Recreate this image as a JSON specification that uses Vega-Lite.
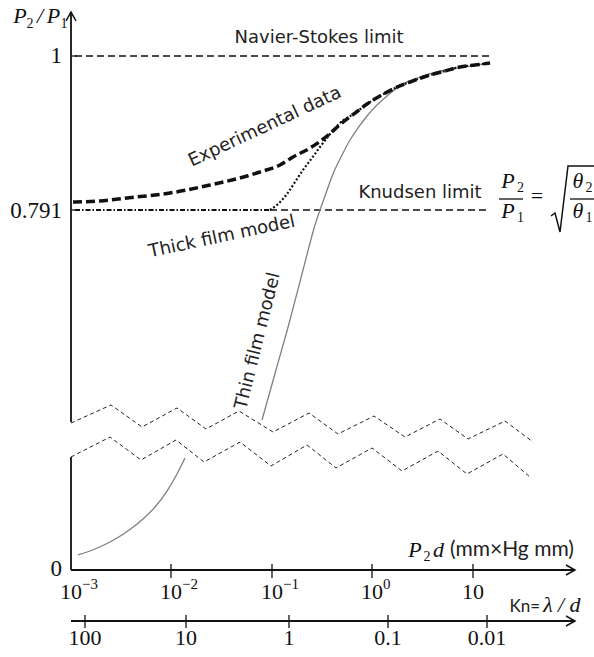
{
  "$schema": "https://vega.github.io/schema/vega-lite/v6.json",
  "width": 594,
  "height": 657,
  "autosize": "none",
  "padding": 0,
  "background": "white",
  "config": {"view": {"stroke": null}},
  "datasets": {
    "seg": [
      {"kind": "axis", "x": -3, "y": 1.0597, "x2": -3, "y2": 0.50328},
      {"kind": "axis", "x": -3, "y": 0.45579, "x2": -3, "y2": 0.30243},
      {"kind": "axis", "x": -3, "y": 0.30243, "x2": 2.0149, "y2": 0.30243},
      {"kind": "axis", "x": -3, "y": 0.23321, "x2": 2.0149, "y2": 0.23321},
      {"kind": "tick", "x": -3, "y": 1, "x2": -2.9403, "y2": 1},
      {"kind": "tick", "x": -3, "y": 0.791, "x2": -2.9403, "y2": 0.791},
      {"kind": "tick", "x": -2.005, "y": 0.31057, "x2": -2.005, "y2": 0.29157},
      {"kind": "tick", "x": -1.0, "y": 0.31057, "x2": -1.0, "y2": 0.29157},
      {"kind": "tick", "x": -0.005, "y": 0.31057, "x2": -0.005, "y2": 0.29157},
      {"kind": "tick", "x": 1.0, "y": 0.31057, "x2": 1.0, "y2": 0.29157},
      {"kind": "tick", "x": -2.8607, "y": 0.24136, "x2": -2.8607, "y2": 0.22371},
      {"kind": "tick", "x": -1.8557, "y": 0.24136, "x2": -1.8557, "y2": 0.22371},
      {"kind": "tick", "x": -0.8308, "y": 0.24136, "x2": -0.8308, "y2": 0.22371},
      {"kind": "tick", "x": 0.1542, "y": 0.24136, "x2": 0.1542, "y2": 0.22371},
      {"kind": "tick", "x": 1.1393, "y": 0.24136, "x2": 1.1393, "y2": 0.22371},
      {"kind": "frac", "x": 1.2587, "y": 0.80593, "x2": 1.4975, "y2": 0.80593},
      {"kind": "frac", "x": 1.9652, "y": 0.80593, "x2": 2.204, "y2": 0.80593},
      {"kind": "dash", "x": -2.9602, "y": 1, "x2": 1.1692, "y2": 1},
      {"kind": "dash", "x": -1.0199, "y": 0.791, "x2": 1.1692, "y2": 0.791},
      {"kind": "dashdot", "x": -2.9602, "y": 0.791, "x2": -1.0199, "y2": 0.791}
    ],
    "poly": [
      {"id": "ay", "o": 0, "x": -3.0498, "y": 1.0475},
      {"id": "ay", "o": 1, "x": -3, "y": 1.0597},
      {"id": "ay", "o": 2, "x": -2.9502, "y": 1.0475},
      {"id": "ax", "o": 0, "x": 1.9254, "y": 0.30921},
      {"id": "ax", "o": 1, "x": 2.0149, "y": 0.30243},
      {"id": "ax", "o": 2, "x": 1.9254, "y": 0.29564},
      {"id": "ak", "o": 0, "x": 1.9254, "y": 0.24},
      {"id": "ak", "o": 1, "x": 2.0149, "y": 0.23321},
      {"id": "ak", "o": 2, "x": 1.9254, "y": 0.22643},
      {"id": "sq", "o": 0, "x": 1.7761, "y": 0.78286},
      {"id": "sq", "o": 1, "x": 1.8159, "y": 0.78693},
      {"id": "sq", "o": 2, "x": 1.8657, "y": 0.76114},
      {"id": "sq", "o": 3, "x": 1.9453, "y": 0.85071},
      {"id": "sq", "o": 4, "x": 2.204, "y": 0.85071}
    ],
    "zig": [
      {"id": "z1", "o": 0, "x": -3, "y": 0.5019},
      {"id": "z1", "o": 1, "x": -2.602, "y": 0.5264},
      {"id": "z1", "o": 2, "x": -2.2935, "y": 0.4965},
      {"id": "z1", "o": 3, "x": -1.9453, "y": 0.5223},
      {"id": "z1", "o": 4, "x": -1.6567, "y": 0.4938},
      {"id": "z1", "o": 5, "x": -1.3284, "y": 0.5182},
      {"id": "z1", "o": 6, "x": -0.99, "y": 0.4897},
      {"id": "z1", "o": 7, "x": -0.6318, "y": 0.5155},
      {"id": "z1", "o": 8, "x": -0.3433, "y": 0.487},
      {"id": "z1", "o": 9, "x": 0.0149, "y": 0.5114},
      {"id": "z1", "o": 10, "x": 0.3234, "y": 0.4829},
      {"id": "z1", "o": 11, "x": 0.6716, "y": 0.5074},
      {"id": "z1", "o": 12, "x": 0.9502, "y": 0.4802},
      {"id": "z1", "o": 13, "x": 1.3184, "y": 0.5046},
      {"id": "z1", "o": 14, "x": 1.597, "y": 0.4761},
      {"id": "z2", "o": 0, "x": -3, "y": 0.4558},
      {"id": "z2", "o": 1, "x": -2.6119, "y": 0.4829},
      {"id": "z2", "o": 2, "x": -2.3035, "y": 0.4517},
      {"id": "z2", "o": 3, "x": -1.9552, "y": 0.4789},
      {"id": "z2", "o": 4, "x": -1.6766, "y": 0.449},
      {"id": "z2", "o": 5, "x": -1.3184, "y": 0.4761},
      {"id": "z2", "o": 6, "x": -1.01, "y": 0.4436},
      {"id": "z2", "o": 7, "x": -0.6517, "y": 0.4721},
      {"id": "z2", "o": 8, "x": -0.3632, "y": 0.4409},
      {"id": "z2", "o": 9, "x": -0.005, "y": 0.468},
      {"id": "z2", "o": 10, "x": 0.2935, "y": 0.4368},
      {"id": "z2", "o": 11, "x": 0.6517, "y": 0.4639},
      {"id": "z2", "o": 12, "x": 0.9403, "y": 0.4327},
      {"id": "z2", "o": 13, "x": 1.2985, "y": 0.4599},
      {"id": "z2", "o": 14, "x": 1.5672, "y": 0.4286}
    ],
    "curve": [
      {"id": "exp", "o": 0, "x": -2.9801, "y": 0.8019},
      {"id": "exp", "o": 1, "x": -2.7114, "y": 0.8032},
      {"id": "exp", "o": 2, "x": -2.4428, "y": 0.8073},
      {"id": "exp", "o": 3, "x": -2.0149, "y": 0.8141},
      {"id": "exp", "o": 4, "x": -1.6169, "y": 0.8249},
      {"id": "exp", "o": 5, "x": -1.2488, "y": 0.8371},
      {"id": "exp", "o": 6, "x": -1.1194, "y": 0.8426},
      {"id": "exp", "o": 7, "x": -0.9204, "y": 0.8521},
      {"id": "exp", "o": 8, "x": -0.791, "y": 0.8629},
      {"id": "exp", "o": 9, "x": -0.6219, "y": 0.8751},
      {"id": "exp", "o": 10, "x": -0.4527, "y": 0.8914},
      {"id": "exp", "o": 11, "x": -0.2935, "y": 0.9104},
      {"id": "exp", "o": 12, "x": -0.1741, "y": 0.9226},
      {"id": "exp", "o": 13, "x": -0.0547, "y": 0.9349},
      {"id": "exp", "o": 14, "x": 0.0746, "y": 0.9457},
      {"id": "exp", "o": 15, "x": 0.204, "y": 0.9552},
      {"id": "exp", "o": 16, "x": 0.3731, "y": 0.9647},
      {"id": "exp", "o": 17, "x": 0.5423, "y": 0.9729},
      {"id": "exp", "o": 18, "x": 0.7214, "y": 0.9796},
      {"id": "exp", "o": 19, "x": 0.8706, "y": 0.9851},
      {"id": "exp", "o": 20, "x": 1.0199, "y": 0.9878},
      {"id": "exp", "o": 21, "x": 1.1692, "y": 0.9905},
      {"id": "thick", "o": 0, "x": -1.0199, "y": 0.791},
      {"id": "thick", "o": 1, "x": -0.9403, "y": 0.7991},
      {"id": "thick", "o": 2, "x": -0.8507, "y": 0.8127},
      {"id": "thick", "o": 3, "x": -0.7711, "y": 0.829},
      {"id": "thick", "o": 4, "x": -0.6915, "y": 0.8453},
      {"id": "thick", "o": 5, "x": -0.602, "y": 0.8616},
      {"id": "thick", "o": 6, "x": -0.5224, "y": 0.8765},
      {"id": "thick", "o": 7, "x": -0.4229, "y": 0.8941},
      {"id": "thick", "o": 8, "x": -0.3234, "y": 0.9091},
      {"id": "thick", "o": 9, "x": -0.1741, "y": 0.9226},
      {"id": "thick", "o": 10, "x": -0.0547, "y": 0.9349},
      {"id": "thick", "o": 11, "x": 0.0746, "y": 0.9457},
      {"id": "thick", "o": 12, "x": 0.204, "y": 0.9552},
      {"id": "thick", "o": 13, "x": 0.3731, "y": 0.9647},
      {"id": "thick", "o": 14, "x": 0.5423, "y": 0.9729},
      {"id": "thick", "o": 15, "x": 0.7214, "y": 0.9796},
      {"id": "thick", "o": 16, "x": 0.8706, "y": 0.9851},
      {"id": "thick", "o": 17, "x": 1.0199, "y": 0.9878},
      {"id": "thick", "o": 18, "x": 1.1692, "y": 0.9905},
      {"id": "thinup", "o": 0, "x": -1.0995, "y": 0.506},
      {"id": "thinup", "o": 1, "x": -0.9602, "y": 0.5739},
      {"id": "thinup", "o": 2, "x": -0.8209, "y": 0.6417},
      {"id": "thinup", "o": 3, "x": -0.6915, "y": 0.7096},
      {"id": "thinup", "o": 4, "x": -0.5721, "y": 0.7706},
      {"id": "thinup", "o": 5, "x": -0.4726, "y": 0.81},
      {"id": "thinup", "o": 6, "x": -0.393, "y": 0.8399},
      {"id": "thinup", "o": 7, "x": -0.3035, "y": 0.8656},
      {"id": "thinup", "o": 8, "x": -0.2239, "y": 0.886},
      {"id": "thinup", "o": 9, "x": -0.1443, "y": 0.9023},
      {"id": "thinup", "o": 10, "x": -0.0547, "y": 0.9186},
      {"id": "thinup", "o": 11, "x": 0.0448, "y": 0.9335},
      {"id": "thinup", "o": 12, "x": 0.1443, "y": 0.9457},
      {"id": "thinup", "o": 13, "x": 0.3035, "y": 0.962},
      {"id": "thinup", "o": 14, "x": 0.4726, "y": 0.9715},
      {"id": "thinup", "o": 15, "x": 0.7214, "y": 0.981},
      {"id": "thinup", "o": 16, "x": 0.9701, "y": 0.9864},
      {"id": "thinup", "o": 17, "x": 1.1692, "y": 0.9905},
      {"id": "thinlow", "o": 0, "x": -2.9303, "y": 0.3228},
      {"id": "thinlow", "o": 1, "x": -2.7612, "y": 0.3309},
      {"id": "thinlow", "o": 2, "x": -2.6119, "y": 0.3404},
      {"id": "thinlow", "o": 3, "x": -2.4627, "y": 0.3526},
      {"id": "thinlow", "o": 4, "x": -2.2836, "y": 0.3716},
      {"id": "thinlow", "o": 5, "x": -2.1642, "y": 0.3879},
      {"id": "thinlow", "o": 6, "x": -2.0448, "y": 0.4096},
      {"id": "thinlow", "o": 7, "x": -1.9453, "y": 0.4327},
      {"id": "thinlow", "o": 8, "x": -1.8657, "y": 0.4544}
    ],
    "txt": [
      {"kind": "sans", "text": "Navier-Stokes limit", "x": -0.5323, "y": 1.0244},
      {"kind": "sans", "text": "Knudsen limit", "x": 0.4726, "y": 0.8141},
      {"kind": "exp", "text": "Experimental data", "x": -1.0697, "y": 0.9036},
      {"kind": "thick", "text": "Thick film model", "x": -1.4975, "y": 0.7544},
      {"kind": "thin", "text": "Thin film model", "x": -1.1393, "y": 0.6132},
      {"kind": "ylab", "text": "1", "x": -3.0896, "y": 1.0},
      {"kind": "ylab", "text": "0.791", "x": -3.0896, "y": 0.7903},
      {"kind": "ylab", "text": "0", "x": -3.0896, "y": 0.3038},
      {"kind": "tick", "text": "10", "x": -3, "y": 0.27257},
      {"kind": "tick", "text": "10", "x": -2.005, "y": 0.27257},
      {"kind": "tick", "text": "10", "x": -1.0, "y": 0.27257},
      {"kind": "tick", "text": "10", "x": -0.005, "y": 0.27257},
      {"kind": "tick", "text": "10", "x": 1.0, "y": 0.27257},
      {"kind": "tick", "text": "100", "x": -2.8607, "y": 0.21014},
      {"kind": "tick", "text": "10", "x": -1.8557, "y": 0.21014},
      {"kind": "tick", "text": "1", "x": -0.8308, "y": 0.21014},
      {"kind": "tick", "text": "0.1", "x": 0.1542, "y": 0.21014},
      {"kind": "tick", "text": "0.01", "x": 1.1393, "y": 0.21014},
      {"kind": "tick", "text": "=", "x": 1.6368, "y": 0.81},
      {"kind": "sup", "text": "−3", "x": -2.8905, "y": 0.28343},
      {"kind": "sup", "text": "−2", "x": -1.8955, "y": 0.28343},
      {"kind": "sup", "text": "−1", "x": -0.8905, "y": 0.28343},
      {"kind": "sup", "text": "0", "x": 0.1045, "y": 0.28343},
      {"kind": "ital", "text": "P", "x": -3.5075, "y": 1.04479},
      {"kind": "ital", "text": "/", "x": -3.3085, "y": 1.04479},
      {"kind": "ital", "text": "P", "x": -3.1741, "y": 1.04479},
      {"kind": "ital", "text": "P", "x": 0.4229, "y": 0.32007},
      {"kind": "ital", "text": "d", "x": 0.6567, "y": 0.32007},
      {"kind": "ital", "text": "P", "x": 1.3483, "y": 0.82086},
      {"kind": "ital", "text": "P", "x": 1.3483, "y": 0.78014},
      {"kind": "ital", "text": "θ", "x": 2.0448, "y": 0.82086},
      {"kind": "ital", "text": "θ", "x": 2.0448, "y": 0.78014},
      {"kind": "ital", "text": "λ", "x": 1.7463, "y": 0.24543},
      {"kind": "ital", "text": "/", "x": 1.8756, "y": 0.24543},
      {"kind": "ital", "text": "d", "x": 2.0149, "y": 0.24543},
      {"kind": "sub", "text": "2", "x": -3.408, "y": 1.038},
      {"kind": "sub", "text": "1", "x": -3.0697, "y": 1.038},
      {"kind": "sub", "text": "2", "x": 0.5423, "y": 0.31464},
      {"kind": "sub", "text": "2", "x": 1.4726, "y": 0.81543},
      {"kind": "sub", "text": "1", "x": 1.4726, "y": 0.77471},
      {"kind": "sub", "text": "2", "x": 2.1542, "y": 0.81543},
      {"kind": "sub", "text": "1", "x": 2.1542, "y": 0.77471},
      {"kind": "latoL", "text": "(mm×Hg mm)", "x": 0.7711, "y": 0.32143},
      {"kind": "latoR", "text": "Kn=", "x": 1.6667, "y": 0.24543}
    ]
  },
  "encoding": {
    "x": {"field": "x", "type": "quantitative", "scale": {"domain": [-3.70647, 2.20398], "nice": false, "zero": false}, "axis": null},
    "y": {"field": "y", "type": "quantitative", "scale": {"domain": [0.18436, 1.076], "nice": false, "zero": false}, "axis": null}
  },
  "layer": [
    {
      "data": {"name": "zig"},
      "mark": {"type": "line", "strokeWidth": 1, "color": "#222", "strokeDash": [4, 3]},
      "encoding": {"detail": {"field": "id"}, "order": {"field": "o", "type": "quantitative"}}
    },
    {
      "data": {"name": "seg"},
      "transform": [{"filter": {"field": "kind", "equal": "dash"}}],
      "mark": {"type": "rule", "strokeWidth": 1.3, "color": "#111", "strokeDash": [7, 4]},
      "encoding": {"x2": {"field": "x2"}, "y2": {"field": "y2"}}
    },
    {
      "data": {"name": "seg"},
      "transform": [{"filter": {"field": "kind", "equal": "dashdot"}}],
      "mark": {"type": "rule", "strokeWidth": 2, "color": "#111", "strokeDash": [5, 2, 1.5, 2]},
      "encoding": {"x2": {"field": "x2"}, "y2": {"field": "y2"}}
    },
    {
      "data": {"name": "curve"},
      "transform": [{"filter": {"field": "id", "oneOf": ["thinup", "thinlow"]}}],
      "mark": {"type": "line", "strokeWidth": 1.3, "color": "#808080", "interpolate": "monotone"},
      "encoding": {"detail": {"field": "id"}, "order": {"field": "o", "type": "quantitative"}}
    },
    {
      "data": {"name": "curve"},
      "transform": [{"filter": {"field": "id", "equal": "thick"}}],
      "mark": {"type": "line", "strokeWidth": 2.2, "color": "#111", "strokeDash": [2, 2], "interpolate": "monotone"},
      "encoding": {"order": {"field": "o", "type": "quantitative"}}
    },
    {
      "data": {"name": "curve"},
      "transform": [{"filter": {"field": "id", "equal": "exp"}}],
      "mark": {"type": "line", "strokeWidth": 3.5, "color": "#111", "strokeDash": [9, 4], "interpolate": "monotone"},
      "encoding": {"order": {"field": "o", "type": "quantitative"}}
    },
    {
      "data": {"name": "seg"},
      "transform": [{"filter": {"field": "kind", "equal": "axis"}}],
      "mark": {"type": "rule", "strokeWidth": 1.8, "color": "#111"},
      "encoding": {"x2": {"field": "x2"}, "y2": {"field": "y2"}}
    },
    {
      "data": {"name": "seg"},
      "transform": [{"filter": {"field": "kind", "oneOf": ["tick", "frac"]}}],
      "mark": {"type": "rule", "strokeWidth": 1.3, "color": "#111"},
      "encoding": {"x2": {"field": "x2"}, "y2": {"field": "y2"}}
    },
    {
      "data": {"name": "poly"},
      "mark": {"type": "line", "strokeWidth": 1.5, "color": "#111"},
      "encoding": {"detail": {"field": "id"}, "order": {"field": "o", "type": "quantitative"}}
    },
    {
      "data": {"name": "txt"},
      "transform": [{"filter": {"field": "kind", "equal": "sans"}}],
      "mark": {"type": "text", "font": "DejaVu Sans", "fontSize": 18, "color": "#222", "align": "center", "baseline": "middle"},
      "encoding": {"text": {"field": "text"}}
    },
    {
      "data": {"name": "txt"},
      "transform": [{"filter": {"field": "kind", "equal": "exp"}}],
      "mark": {"type": "text", "font": "DejaVu Sans", "fontSize": 18, "color": "#222", "align": "center", "baseline": "middle", "angle": 335},
      "encoding": {"text": {"field": "text"}}
    },
    {
      "data": {"name": "txt"},
      "transform": [{"filter": {"field": "kind", "equal": "thick"}}],
      "mark": {"type": "text", "font": "DejaVu Sans", "fontSize": 18, "color": "#222", "align": "center", "baseline": "middle", "angle": 348},
      "encoding": {"text": {"field": "text"}}
    },
    {
      "data": {"name": "txt"},
      "transform": [{"filter": {"field": "kind", "equal": "thin"}}],
      "mark": {"type": "text", "font": "DejaVu Sans", "fontSize": 18, "color": "#222", "align": "center", "baseline": "middle", "angle": 284},
      "encoding": {"text": {"field": "text"}}
    },
    {
      "data": {"name": "txt"},
      "transform": [{"filter": {"field": "kind", "equal": "ylab"}}],
      "mark": {"type": "text", "font": "Liberation Serif", "fontSize": 23, "color": "#111", "align": "right", "baseline": "middle"},
      "encoding": {"text": {"field": "text"}}
    },
    {
      "data": {"name": "txt"},
      "transform": [{"filter": {"field": "kind", "equal": "tick"}}],
      "mark": {"type": "text", "font": "Liberation Serif", "fontSize": 22, "color": "#111", "align": "center", "baseline": "middle"},
      "encoding": {"text": {"field": "text"}}
    },
    {
      "data": {"name": "txt"},
      "transform": [{"filter": {"field": "kind", "equal": "sup"}}],
      "mark": {"type": "text", "font": "Liberation Serif", "fontSize": 15, "color": "#111", "align": "left", "baseline": "middle"},
      "encoding": {"text": {"field": "text"}}
    },
    {
      "data": {"name": "txt"},
      "transform": [{"filter": {"field": "kind", "equal": "ital"}}],
      "mark": {"type": "text", "font": "Liberation Serif", "fontStyle": "italic", "fontSize": 22, "color": "#111", "align": "center", "baseline": "alphabetic"},
      "encoding": {"text": {"field": "text"}}
    },
    {
      "data": {"name": "txt"},
      "transform": [{"filter": {"field": "kind", "equal": "sub"}}],
      "mark": {"type": "text", "font": "Liberation Serif", "fontSize": 14, "color": "#111", "align": "center", "baseline": "alphabetic"},
      "encoding": {"text": {"field": "text"}}
    },
    {
      "data": {"name": "txt"},
      "transform": [{"filter": {"field": "kind", "equal": "latoL"}}],
      "mark": {"type": "text", "font": "Lato", "fontSize": 21, "color": "#222", "align": "left", "baseline": "alphabetic"},
      "encoding": {"text": {"field": "text"}}
    },
    {
      "data": {"name": "txt"},
      "transform": [{"filter": {"field": "kind", "equal": "latoR"}}],
      "mark": {"type": "text", "font": "Lato", "fontSize": 17, "color": "#222", "align": "right", "baseline": "alphabetic"},
      "encoding": {"text": {"field": "text"}}
    }
  ]
}
